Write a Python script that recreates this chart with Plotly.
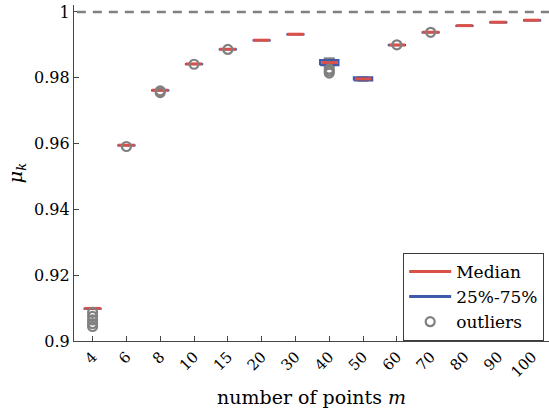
import plotly.graph_objects as go

categories = ["4", "6", "8", "10", "15", "20", "30", "40", "50", "60", "70", "80", "90", "100"]
medians = [0.9099, 0.95950, 0.97620, 0.98420, 0.98866, 0.99140, 0.99322, 0.98460, 0.97964, 0.98997, 0.99383, 0.99584, 0.99687, 0.99748]
q1 = [0.9098, 0.95943, 0.97613, 0.98413, 0.98859, 0.99134, 0.99316, 0.98380, 0.97918, 0.98991, 0.99377, 0.99578, 0.99681, 0.99742]
q3 = [0.9100, 0.95957, 0.97627, 0.98427, 0.98873, 0.99146, 0.99328, 0.98535, 0.98015, 0.99003, 0.99389, 0.99590, 0.99693, 0.99754]
lower_whisker = [0.9094, 0.95930, 0.97600, 0.98400, 0.98846, 0.99125, 0.99308, 0.98315, 0.97878, 0.98980, 0.99370, 0.99570, 0.99675, 0.99737]
upper_whisker = [0.9101, 0.95965, 0.97635, 0.98435, 0.98880, 0.99152, 0.99334, 0.98620, 0.98040, 0.99010, 0.99395, 0.99595, 0.99697, 0.99757]
outliers = {
    "4": [0.9087, 0.9075, 0.9064, 0.9053, 0.9044],
    "6": [0.9591],
    "8": [0.9760, 0.9755],
    "10": [0.9841],
    "15": [0.9886],
    "40": [0.9826, 0.9820, 0.9814],
    "60": [0.9900],
    "70": [0.9938],
}

RED = "rgb(217,80,72)"
BLUE = "rgb(62,90,168)"
GRAY = "rgb(128,128,128)"
FONT = "DejaVu Serif"
HW = 0.27  # half width of box in category units

pos = list(range(1, len(categories) + 1))

wx, wy, bx, by, mx, my = [], [], [], [], [], []
for p, m, a, b, lo, hi in zip(pos, medians, q1, q3, lower_whisker, upper_whisker):
    wx += [p, p, None]
    wy += [lo, hi, None]
    bx += [p - HW, p + HW, p + HW, p - HW, p - HW, None]
    by += [a, a, b, b, a, None]
    mx += [p - HW + 0.03, p + HW - 0.03, None]
    my += [m, m, None]

ox, oy = [], []
for p, c in zip(pos, categories):
    for v in outliers.get(c, []):
        ox.append(p)
        oy.append(v)

fig = go.Figure()
fig.add_trace(go.Scatter(x=wx, y=wy, mode="lines", line=dict(color=GRAY, width=11),
                         showlegend=False, hoverinfo="skip"))
fig.add_trace(go.Scatter(x=bx, y=by, mode="lines", line=dict(color=BLUE, width=2.2),
                         name="25%-75%", showlegend=False))
fig.add_trace(go.Scatter(x=mx, y=my, mode="lines", line=dict(color=RED, width=3),
                         name="Median"))
fig.add_trace(go.Scatter(x=[None], y=[None], mode="lines", line=dict(color=BLUE, width=3),
                         name="25%-75%"))
fig.add_trace(go.Scatter(x=ox, y=oy, mode="markers",
                         marker=dict(symbol="circle-open", size=9, color=GRAY, line=dict(width=2.2)),
                         name="outliers"))

fig.add_shape(type="line", xref="paper", yref="y", x0=0.006, x1=1, y0=1, y1=1,
              line=dict(color=GRAY, width=2.5, dash="9px,7px"))

fig.update_layout(
    width=549, height=412,
    margin=dict(l=74, r=0, t=5, b=71, autoexpand=False),
    plot_bgcolor="white", paper_bgcolor="white",
    font=dict(family=FONT, size=16, color="black"),
    showlegend=True,
    legend=dict(x=0.693, y=0.262, xanchor="left", yanchor="top",
                bgcolor="white", bordercolor="rgb(60,60,60)", borderwidth=1,
                font=dict(family=FONT, size=17), tracegroupgap=0,
                itemwidth=42),
    xaxis=dict(range=[0.45, 14.5], tickmode="array", tickvals=pos, ticktext=categories,
               tickangle=-45, showgrid=False, zeroline=False, automargin=False,
               showline=True, linecolor="rgb(70,70,70)", linewidth=1.2,
               ticks="inside", ticklen=5, tickcolor="rgb(70,70,70)",
               tickfont=dict(family=FONT, size=15),
               title=dict(text="number of points <i>m</i>", font=dict(family=FONT, size=19), standoff=10)),
    yaxis=dict(range=[0.9, 1.0021], tickmode="array",
               tickvals=[0.9, 0.92, 0.94, 0.96, 0.98, 1.0],
               ticktext=["0.9", "0.92", "0.94", "0.96", "0.98", "1"],
               showgrid=False, zeroline=False, automargin=False,
               showline=True, linecolor="rgb(70,70,70)", linewidth=1.2,
               ticks="inside", ticklen=5, tickcolor="rgb(70,70,70)",
               tickfont=dict(family=FONT, size=16),
               title=dict(text="<i>μ<sub>k</sub></i>", font=dict(family=FONT, size=19), standoff=6)),
)

fig.write_html("out.html", config={"displayModeBar": False},
               post_script="document.body.style.margin='0';document.body.style.padding='0';")
